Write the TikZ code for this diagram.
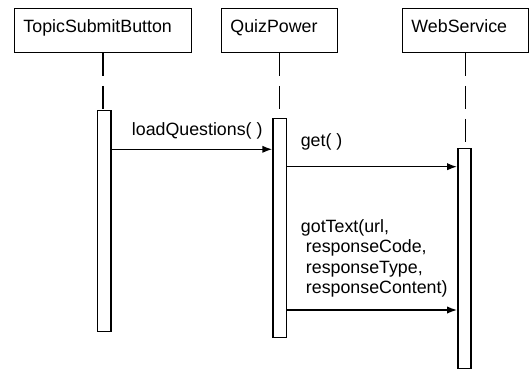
\documentclass[tikz,border=0pt]{standalone}
\usepackage{fontspec}
\setmainfont{Liberation Sans}
\usepackage{tikz}
\usetikzlibrary{calc}
\usetikzlibrary{positioning}
\usetikzlibrary{arrows.meta}
\begin{document}
\begin{tikzpicture}[>={Latex[length=7.5pt,width=5.5pt]},x=0.75pt,y=-0.75pt,
  font=\fontsize{13.35}{15.2}\selectfont,
  head/.style={draw,line width=0.7pt,anchor=north west,inner xsep=6.75pt,inner ysep=8.25pt,
    text height=9.75pt,text depth=6.75pt,text width=#1,align=left},
  bar/.style={draw,line width=1.1pt,fill=white,inner sep=0pt,minimum width=10pt,minimum height=#1,anchor=north},
  life/.style={line width=1.3pt,dash pattern=on 17.25pt off 7.5pt},
  msg/.style={->,line width=1.1pt},
  lbl/.style={inner sep=0pt}]

\useasboundingbox (0,0) rectangle (531,369);

\node [head=119.25pt] (tsb) at (14,8) {TopicSubmitButton};
\node [head=73.5pt] (qp) at (221,8) {QuizPower};
\node [head=81pt] (ws) at (402,8) {WebService};

\node [bar=165.75pt] (tsbbar) at (104.3,110) {};
\node [bar=164.25pt] (qpbar) at (279.7,118) {};
\node [bar=165pt] (wsbar) at (464.5,148) {};

\draw [life] (tsb.south) -- (tsb.south |- tsbbar.north);
\draw [life] (qp.south) -- (qp.south |- qpbar.north);
\draw [life] (ws.south) -- (ws.south |- wsbar.north);

\coordinate (m1) at (0,149.3);
\coordinate (m2) at (0,166.7);
\coordinate (m3) at (0,310);

\draw [msg] (tsbbar.east |- m1) -- (qpbar.west |- m1);
\draw [msg] (qpbar.east |- m2) -- (wsbar.west |- m2);
\draw [msg] (qpbar.east |- m3) -- (wsbar.west |- m3);

\node [lbl,anchor=base] (lq) at (197.2,135.5) {loadQuestions( )};
\node [lbl,anchor=base west] (gt) at (300.5,146) {get( )};
\node [lbl,anchor=north west,align=left] (gtx) at (300.7,219.5) {gotText(url,\\
  \hspace*{3.75pt}responseCode,\\
  \hspace*{3.75pt}responseType,\\
  \hspace*{3.75pt}responseContent)};

\end{tikzpicture}
\end{document}
